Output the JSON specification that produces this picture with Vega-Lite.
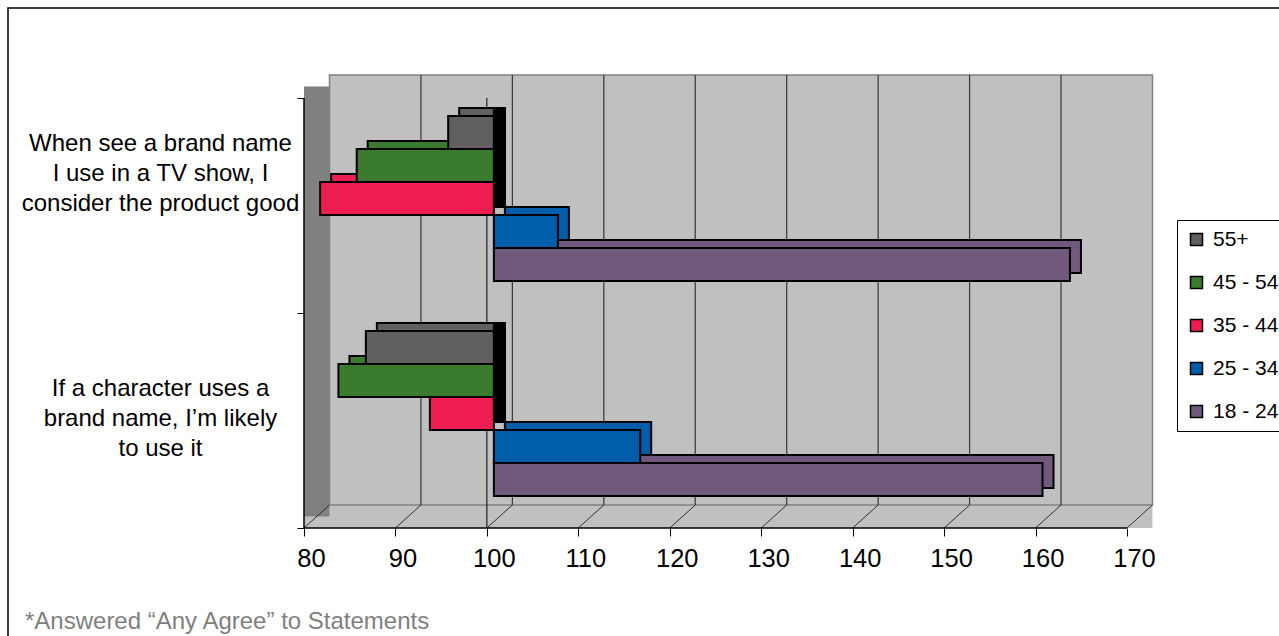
{
  "$schema": "https://vega.github.io/schema/vega-lite/v6.json",
  "width": 1280,
  "height": 640,
  "autosize": {"type": "none"},
  "padding": {"left": 8, "top": 8, "right": 0, "bottom": 0},
  "background": "white",
  "config": {
    "font": "Liberation Sans",
    "view": {"stroke": "#000000", "strokeWidth": 1.5}
  },
  "title": {
    "text": "*Answered “Any Agree” to Statements",
    "orient": "bottom",
    "anchor": "start",
    "frame": "group",
    "offset": -38,
    "dx": 17,
    "fontSize": 24,
    "fontWeight": "normal",
    "color": "#7f7f7f"
  },
  "datasets": {
    "bars": [
      {"statement": "When see a brand name|I use in a TV show, I|consider the product good", "age": "55+", "value": 95},
      {"statement": "When see a brand name|I use in a TV show, I|consider the product good", "age": "45 - 54", "value": 85},
      {"statement": "When see a brand name|I use in a TV show, I|consider the product good", "age": "35 - 44", "value": 81},
      {"statement": "When see a brand name|I use in a TV show, I|consider the product good", "age": "25 - 34", "value": 107},
      {"statement": "When see a brand name|I use in a TV show, I|consider the product good", "age": "18 - 24", "value": 163},
      {"statement": "If a character uses a|brand name, I’m likely|\u00a0\u00a0\u00a0\u00a0to use it", "age": "55+", "value": 86},
      {"statement": "If a character uses a|brand name, I’m likely|\u00a0\u00a0\u00a0\u00a0to use it", "age": "45 - 54", "value": 83},
      {"statement": "If a character uses a|brand name, I’m likely|\u00a0\u00a0\u00a0\u00a0to use it", "age": "35 - 44", "value": 93},
      {"statement": "If a character uses a|brand name, I’m likely|\u00a0\u00a0\u00a0\u00a0to use it", "age": "25 - 34", "value": 116},
      {"statement": "If a character uses a|brand name, I’m likely|\u00a0\u00a0\u00a0\u00a0to use it", "age": "18 - 24", "value": 160}
    ],
    "ticks": [
      {"v": 80}, {"v": 90}, {"v": 100}, {"v": 110}, {"v": 120}, {"v": 130},
      {"v": 140}, {"v": 150}, {"v": 160}, {"v": 170}
    ]
  },
  "resolve": {"scale": {"y": "independent", "yOffset": "independent"}},
  "layer": [
    {
      "data": {"values": [{}]},
      "layer": [
        {
          "mark": {"type": "rect", "fill": "#C0C0C0"},
          "encoding": {
            "x": {
              "datum": 80,
              "type": "quantitative",
              "scale": {"domain": [47.63, 187.61], "nice": false, "zero": false},
              "axis": {
                "title": null,
                "values": [80, 90, 100, 110, 120, 130, 140, 150, 160, 170],
                "domain": false,
                "grid": false,
                "offset": -120,
                "tickSize": 8,
                "tickColor": "#000000",
                "labelFontSize": 25.5,
                "labelColor": "#000000",
                "labelPadding": 10,
                "labelOffset": 7,
                "labelFlush": false,
                "labelOverlap": false,
                "labelBound": false
              }
            },
            "x2": {"datum": 172.79},
            "y": {"datum": 0, "type": "quantitative", "scale": {"domain": [-0.55814, 2.4186], "nice": false, "zero": false}, "axis": null},
            "y2": {"datum": 0.107}
          }
        },
        {
          "mark": {"type": "rect", "fill": "#C0C0C0", "stroke": "#808080", "strokeWidth": 1.5},
          "encoding": {
            "x": {"datum": 82.79, "type": "quantitative", "axis": {"title": null}},
            "x2": {"datum": 172.79},
            "y": {"datum": 0.107, "type": "quantitative", "axis": null},
            "y2": {"datum": 2.107}
          }
        },
        {
          "mark": {"type": "rect", "fill": "#808080"},
          "encoding": {
            "x": {"datum": 80, "type": "quantitative", "axis": {"title": null}},
            "x2": {"datum": 82.79},
            "y": {"datum": 0.0535, "type": "quantitative", "axis": null},
            "y2": {"datum": 2.0535}
          }
        },
        {
          "data": {"name": "ticks"},
          "transform": [{"filter": "datum.v > 80 && datum.v < 170"}],
          "mark": {"type": "rule", "xOffset": 25.5, "stroke": "#383838", "strokeWidth": 1.2},
          "encoding": {
            "x": {"field": "v", "type": "quantitative", "axis": {"title": null}},
            "y": {"datum": 0.107, "type": "quantitative", "axis": null},
            "y2": {"datum": 2.107}
          }
        },
        {
          "data": {"name": "ticks"},
          "mark": {"type": "rule", "x2Offset": 25.5, "stroke": "#303030", "strokeWidth": 1},
          "encoding": {
            "x": {"field": "v", "type": "quantitative", "axis": {"title": null}},
            "x2": {"field": "v"},
            "y": {"datum": 0, "type": "quantitative", "axis": null},
            "y2": {"datum": 0.107}
          }
        },
        {
          "mark": {"type": "rule", "stroke": "#000000", "strokeWidth": 1.5},
          "encoding": {
            "x": {"datum": 80, "type": "quantitative", "axis": {"title": null}},
            "y": {"datum": 0, "type": "quantitative", "axis": null},
            "y2": {"datum": 2}
          }
        },
        {
          "mark": {"type": "rule", "stroke": "#000000", "strokeWidth": 1},
          "encoding": {
            "x": {"datum": 100, "type": "quantitative", "axis": {"title": null}},
            "y": {"datum": 0, "type": "quantitative", "axis": null},
            "y2": {"datum": 2}
          }
        },
        {
          "mark": {"type": "rule", "stroke": "#000000", "strokeWidth": 1.5},
          "encoding": {
            "x": {"datum": 80, "type": "quantitative", "axis": {"title": null}},
            "x2": {"datum": 170},
            "y": {"datum": 0, "type": "quantitative", "axis": null}
          }
        }
      ]
    },
    {
      "data": {"name": "bars"},
      "resolve": {"scale": {"yOffset": "independent"}},
      "encoding": {
        "y": {
          "field": "statement",
          "type": "nominal",
          "sort": null,
          "scale": {"type": "band", "paddingInner": 0, "paddingOuter": 0.4884, "align": 0.4286},
          "axis": {
            "title": null,
            "orient": "left",
            "offset": -296,
            "domain": false,
            "grid": false,
            "tickBand": "extent",
            "tickSize": 7,
            "tickColor": "#000000",
            "labelExpr": "indexof(datum.label, 'When') === 0 ? split(datum.label, '|') : split('|' + datum.label, '|')",
            "labelAlign": "center",
            "labelBaseline": "middle",
            "labelPadding": 137,
            "labelFontSize": 24,
            "labelLineHeight": 30,
            "labelColor": "#000000",
            "labelLimit": 0,
            "labelOffset": -62
          }
        },
        "x": {
          "field": "value",
          "type": "quantitative",
          "axis": {"title": null}
        },
        "x2": {"datum": 100}
      },
      "layer": [
        {
          "mark": {"type": "bar", "xOffset": 18, "x2Offset": 18, "stroke": "#000000", "strokeWidth": 2},
          "encoding": {
            "yOffset": {
              "field": "age",
              "type": "nominal",
              "scale": {"domain": ["55+", "45 - 54", "35 - 44", "25 - 34", "18 - 24"], "paddingInner": 0, "paddingOuter": 0.7576, "align": 0.2}
            },
            "color": {
              "field": "age",
              "type": "nominal",
              "scale": {"domain": ["55+", "45 - 54", "35 - 44", "25 - 34", "18 - 24"], "range": ["#606060", "#3A7B2E", "#EE1D52", "#005DAB", "#71587D"]}
            }
          }
        },
        {
          "transform": [{"filter": "datum.value < 100"}],
          "mark": {"type": "bar", "xOffset": 7, "x2Offset": 18, "fill": "#000000", "stroke": "#000000", "strokeWidth": 2},
          "encoding": {
            "yOffset": {
              "field": "age",
              "type": "nominal",
              "scale": {"domain": ["55+", "45 - 54", "35 - 44", "25 - 34", "18 - 24"], "paddingInner": 0, "paddingOuter": 0.7576, "align": 0.2}
            },
            "x": {"datum": 100, "type": "quantitative", "axis": {"title": null}},
            "x2": {"datum": 100}
          }
        },
        {
          "mark": {"type": "bar", "xOffset": 7, "x2Offset": 7, "stroke": "#000000", "strokeWidth": 2},
          "encoding": {
            "yOffset": {
              "field": "age",
              "type": "nominal",
              "scale": {"domain": ["55+", "45 - 54", "35 - 44", "25 - 34", "18 - 24"], "paddingInner": 0, "paddingOuter": 0.7576, "align": 0.36}
            },
            "color": {
              "field": "age",
              "type": "nominal",
              "scale": {"domain": ["55+", "45 - 54", "35 - 44", "25 - 34", "18 - 24"], "range": ["#606060", "#3A7B2E", "#EE1D52", "#005DAB", "#71587D"]},
              "legend": {
                "title": null,
                "orient": "none",
                "legendX": 1169,
                "legendY": 212,
                "strokeColor": "#000000",
                "fillColor": "#ffffff",
                "padding": 9,
                "symbolType": "square",
                "symbolSize": 144,
                "symbolStrokeColor": "#000000",
                "symbolStrokeWidth": 1.5,
                "labelFontSize": 21,
                "labelColor": "#000000",
                "labelOffset": 6,
                "rowPadding": 21
              }
            }
          }
        }
      ]
    }
  ]
}
